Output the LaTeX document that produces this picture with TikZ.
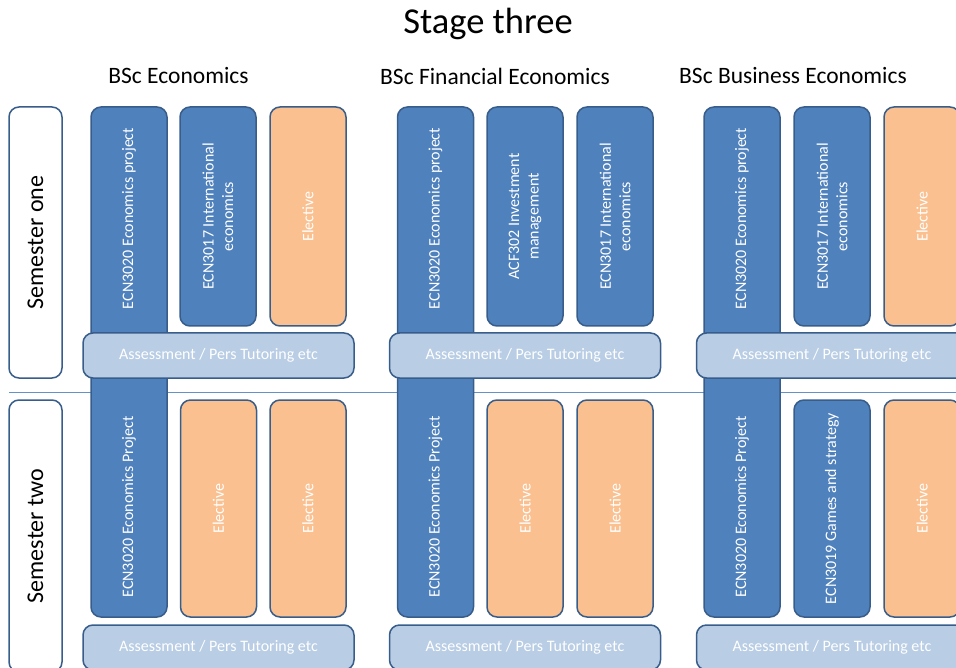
\documentclass[tikz,border=0pt]{standalone}
\usepackage{fontspec}
\setmainfont{Carlito}
\definecolor{dblue}{RGB}{79,129,189}
\definecolor{bord}{RGB}{56,93,138}
\definecolor{orng}{RGB}{250,192,144}
\definecolor{lblue}{RGB}{185,205,229}
\definecolor{lineblue}{RGB}{100,145,200}
\begin{document}
\begin{tikzpicture}[x=1pt,y=-1pt,
  basebox/.style={draw=bord, line width=1.5pt, rounded corners=10pt, inner sep=0pt, align=center},
  vbox/.style={basebox, rotate=90, minimum height=76pt, text=white, font=\fontsize{16}{19.5}\selectfont},
  bluebox/.style={vbox, fill=dblue},
  orangebox/.style={vbox, fill=orng},
  assessbox/.style={basebox, fill=lblue, minimum width=271pt, minimum height=45pt, text=white, font=\fontsize{16}{19.5}\selectfont},
  sembox/.style={basebox, fill=white, rotate=90, minimum height=53pt, text=black, font=\fontsize{24}{28}\selectfont},
  vtext/.style={rotate=90, text=white, inner sep=0pt, font=\fontsize{16}{19.5}\selectfont},
  header/.style={font=\fontsize{23.5}{27}\selectfont, inner sep=0pt},
]
\useasboundingbox (0,0) rectangle (956,668);
\clip (0,0) rectangle (956,668);

\node[font=\fontsize{36.5}{42}\selectfont, inner sep=0pt] (title) at (488,24) {Stage three};
\node[header] (h1) at (178.5,76) {BSc Economics};
\node[header] (h2) at (495,76) {BSc Financial Economics};
\node[header] (h3) at (793,76) {BSc Business Economics};

\coordinate (lineL) at (9,392);
\coordinate (lineR) at (956,392);
\draw[lineblue, line width=0.9pt] (lineL) -- (lineR);

\node[sembox, minimum width=271pt] (s1) at (35.5,242.5) {Semester one};
\node[sembox, minimum width=272pt] (s2) at (35.5,536) {Semester two};

% ---------- group 1
\node[bluebox, minimum width=510pt] (g1p) at (129,362) {};
\node[bluebox, minimum width=219pt] (g1a) at (218,216.5) {ECN3017 International\\economics};
\node[orangebox, minimum width=219pt] (g1b) at (308,216.5) {Elective};
\node[orangebox, minimum width=217pt] (g1c) at (218.5,508.5) {Elective};
\node[orangebox, minimum width=217pt] (g1d) at (308,508.5) {Elective};
\node[assessbox] (g1s) at (218.5,355.5) {Assessment / Pers Tutoring etc};
\node[assessbox] (g1t) at (218.5,647.5) {Assessment / Pers Tutoring etc};
\node[vtext] (g1pa) at (129,218.5) {ECN3020 Economics project};
\node[vtext] (g1pb) at (129,507) {ECN3020 Economics Project};

% ---------- group 2
\node[bluebox, minimum width=510pt] (g2p) at (435.5,362) {};
\node[bluebox, minimum width=219pt] (g2a) at (525,216.5) {ACF302 Investment\\management};
\node[bluebox, minimum width=219pt] (g2b) at (615,216.5) {ECN3017 International\\economics};
\node[orangebox, minimum width=217pt] (g2c) at (525,508.5) {Elective};
\node[orangebox, minimum width=217pt] (g2d) at (615,508.5) {Elective};
\node[assessbox] (g2s) at (525,355.5) {Assessment / Pers Tutoring etc};
\node[assessbox] (g2t) at (525,647.5) {Assessment / Pers Tutoring etc};
\node[vtext] (g2pa) at (435.5,218.5) {ECN3020 Economics project};
\node[vtext] (g2pb) at (435.5,507) {ECN3020 Economics Project};

% ---------- group 3
\node[bluebox, minimum width=510pt] (g3p) at (742,362) {};
\node[bluebox, minimum width=219pt] (g3a) at (832,216.5) {ECN3017 International\\economics};
\node[orangebox, minimum width=219pt] (g3b) at (922,216.5) {Elective};
\node[bluebox, minimum width=217pt] (g3c) at (832,508.5) {ECN3019 Games and strategy};
\node[orangebox, minimum width=217pt] (g3d) at (922,508.5) {Elective};
\node[assessbox] (g3s) at (832,355.5) {Assessment / Pers Tutoring etc};
\node[assessbox] (g3t) at (832,647.5) {Assessment / Pers Tutoring etc};
\node[vtext] (g3pa) at (742,218.5) {ECN3020 Economics project};
\node[vtext] (g3pb) at (742,507) {ECN3020 Economics Project};
\end{tikzpicture}
\end{document}
